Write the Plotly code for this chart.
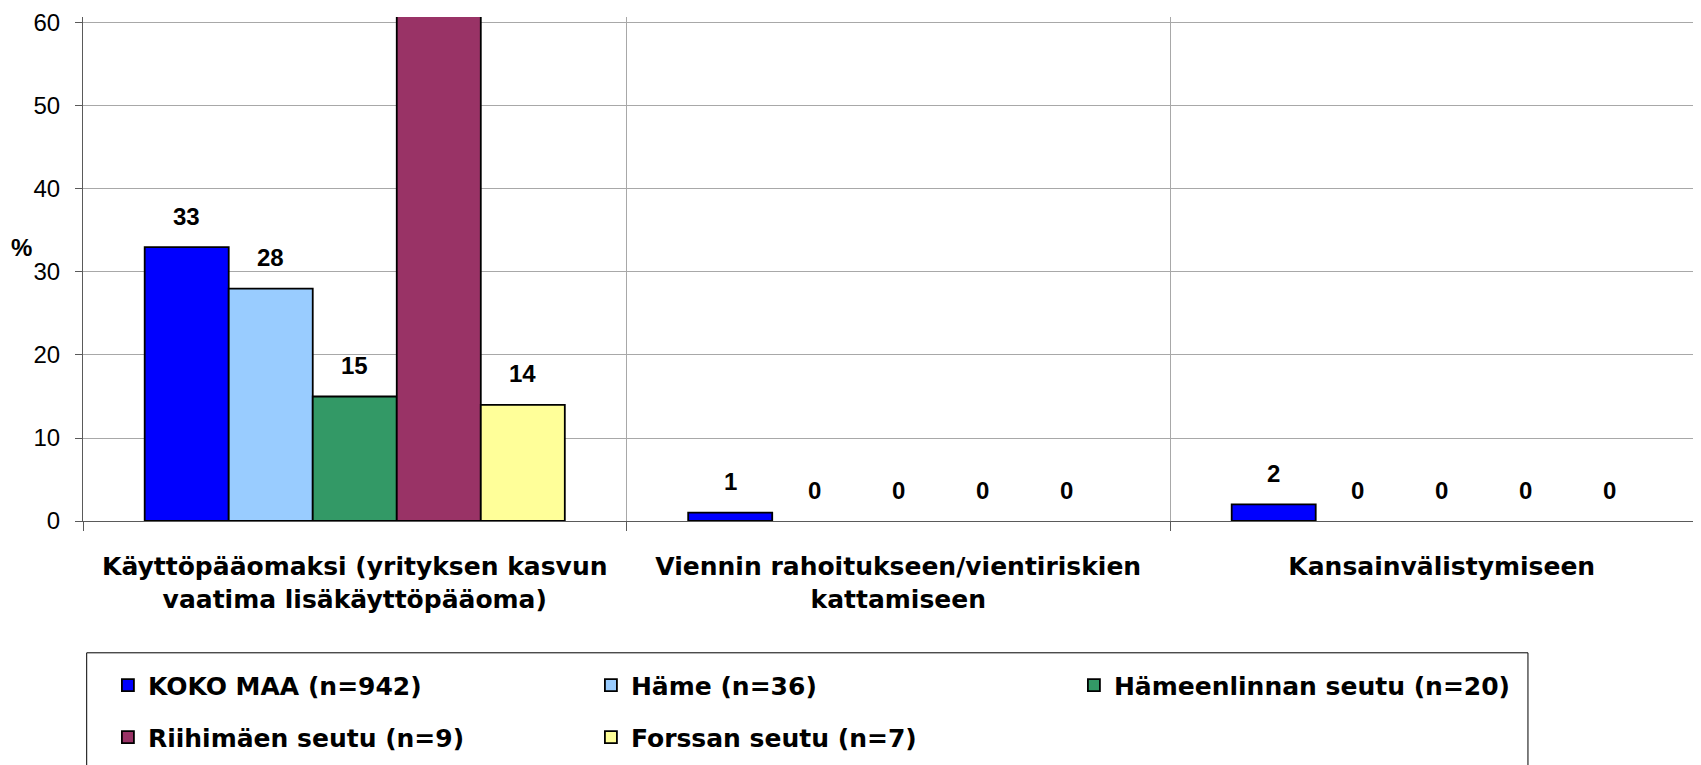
import plotly.graph_objects as go

categories = [
    "Käyttöpääomaksi (yrityksen kasvun<br>vaatima lisäkäyttöpääoma)",
    "Viennin rahoitukseen/vientiriskien<br>kattamiseen",
    "Kansainvälistymiseen",
]
series_names = [
    "KOKO MAA (n=942)",
    "Häme (n=36)",
    "Hämeenlinnan seutu (n=20)",
    "Riihimäen seutu (n=9)",
    "Forssan seutu (n=7)",
]
koko_maa = [33, 1, 2]
hame = [28, 0, 0]
hameenlinna = [15, 0, 0]
riihimaki = [67, 0, 0]
forssa = [14, 0, 0]
series_values = [koko_maa, hame, hameenlinna, riihimaki, forssa]
colors = ["#0000FF", "#99CCFF", "#339966", "#993366", "#FFFF99"]
y_ticks = [0, 10, 20, 30, 40, 50, 60]

x_pos = list(range(len(categories)))
BARGAP = 0.227
n = len(series_values)
bw = (1 - BARGAP) / n

OFF = 8  # page body margin
W, H = 1701, 765
# target plot area in screen pixels
SX0, SX1, SY0, SY1 = 83.3, 1701, 16.7, 520.7
ML = SX0 - OFF
MR = W - (SX1 - OFF)
MT = SY0 - OFF
MB = H - (SY1 - OFF)
PW, PH = W - ML - MR, H - MT - MB
cat_px = 543.4
x_range = [-0.5, -0.5 + PW / cat_px]
y_range = [0, 60.72]

GRID = "#a8a8a8"
AXIS = "#5a5a5a"


def px_x(sx):
    return (sx - SX0) / PW


def px_y(sy):
    return (SY1 - sy) / PH


fig = go.Figure()
for i, (name, vals, col) in enumerate(zip(series_names, series_values, colors)):
    fig.add_trace(go.Bar(
        x=x_pos, y=vals, name=name,
        marker=dict(color=col, line=dict(color="black", width=[1.8 if v > 0 else 0 for v in vals])),
        legend="legend" if i < 3 else "legend2",
    ))

annotations = []
for i, vals in enumerate(series_values):
    for xi, v in zip(x_pos, vals):
        if v <= y_range[1]:
            annotations.append(dict(
                x=xi + (i - (n - 1) / 2) * bw, y=v, xref="x", yref="y",
                text=str(v), showarrow=False, yanchor="middle", yshift=31,
                font=dict(family="Liberation Sans, Arial", size=24, color="black", weight="bold"),
            ))
annotations.append(dict(
    x=px_x(22), y=33, xref="paper", yref="y", text="%", showarrow=False,
    xanchor="center", yanchor="middle",
    font=dict(family="Liberation Sans, Arial", size=24, color="black", weight="bold"),
))

label_font = dict(family="DejaVu Sans", size=25, color="black", weight="bold")

fig.update_layout(
    width=W, height=H,
    margin=dict(l=ML, r=MR, t=MT, b=MB, pad=0, autoexpand=False),
    paper_bgcolor="white", plot_bgcolor="white",
    barmode="group", bargap=BARGAP, bargroupgap=0,
    annotations=annotations,
    xaxis=dict(
        range=x_range, tickmode="array", tickvals=x_pos, ticktext=categories,
        ticks="", showgrid=False, zeroline=False, automargin=False,
        showline=True, linecolor=AXIS, linewidth=1,
        tickfont=label_font, ticklabelstandoff=23,
        minor=dict(tick0=-0.5, dtick=1, ticks="outside", ticklen=9, tickcolor=AXIS,
                   showgrid=True, gridcolor=GRID, gridwidth=1),
    ),
    yaxis=dict(
        range=y_range, tickmode="array", tickvals=y_ticks, automargin=False,
        ticks="outside", ticklen=7, tickcolor=AXIS,
        showline=True, linecolor=AXIS, linewidth=1,
        showgrid=True, gridcolor=GRID, gridwidth=1, zeroline=False,
        tickfont=dict(family="Liberation Sans, Arial", size=24, color="black"),
        ticklabelstandoff=10,
    ),
    legend=dict(
        orientation="h", x=0.0154, xanchor="left", y=px_y(685), yanchor="middle",
        entrywidth=438, entrywidthmode="pixels", borderwidth=0, bgcolor="rgba(0,0,0,0)",
        font=label_font, itemwidth=30, traceorder="normal",
    ),
    legend2=dict(
        orientation="h", x=0.0154, xanchor="left", y=px_y(737), yanchor="middle",
        entrywidth=438, entrywidthmode="pixels", borderwidth=0, bgcolor="rgba(0,0,0,0)",
        font=label_font, itemwidth=30, traceorder="normal",
    ),
    shapes=[dict(
        type="rect", xref="paper", yref="paper",
        x0=px_x(87), x1=px_x(1528),
        y0=px_y(652.5), y1=px_y(800),
        line=dict(color="black", width=1), fillcolor="rgba(0,0,0,0)", layer="above",
    )],
)

fig.write_html("out.html")
